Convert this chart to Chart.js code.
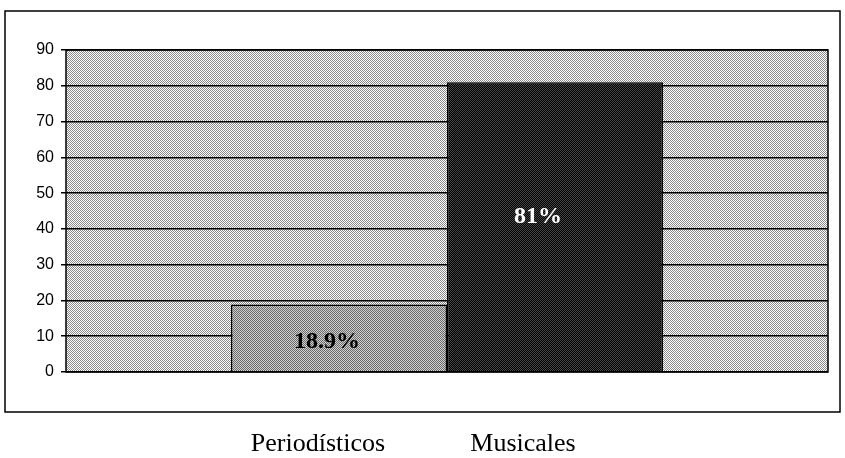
<!DOCTYPE html>
<html>
<head>
<meta charset="utf-8">
<script src="https://cdn.jsdelivr.net/npm/chart.js@4/dist/chart.umd.min.js"></script>
<style>
  html, body { margin: 0; padding: 0; background: #fff; }
  #wrap { width: 845px; height: 458px; position: relative; }
</style>
</head>
<body>
<div id="wrap"><canvas id="chart"></canvas></div>
<script>
// Data
const categories = [''];
const seriesNames = ['Periodísticos', 'Musicales'];
const seriesValues = [18.9, 81];
const valueLabels = ['18.9%', '81%'];
const yTicks = [0, 10, 20, 30, 40, 50, 60, 70, 80, 90];

// small checker pattern to fake the halftone look
function checker(a, b) {
    const c = document.createElement('canvas');
    c.width = 2; c.height = 2;
    const g = c.getContext('2d');
    g.fillStyle = a; g.fillRect(0, 0, 2, 2);
    g.fillStyle = b; g.fillRect(0, 0, 1, 1); g.fillRect(1, 1, 1, 1);
    return g.createPattern(c, 'repeat');
}

const ctx = document.getElementById('chart').getContext('2d');
const plotFill = checker('#ffffff', '#8a8a8a');
const barFills = [checker('#d0d0d0', '#6a6a6a'), checker('#000000', '#444444')];

const framePlugin = {
    id: 'frame',
    beforeDraw(chart) {
        const c = chart.ctx, a = chart.chartArea;
        c.save();
        c.fillStyle = plotFill;
        c.fillRect(a.left, a.top, a.right - a.left, a.bottom - a.top);
        // outer frame
        c.strokeStyle = '#000';
        c.lineWidth = 1.5;
        c.strokeRect(5, 11, 835, 401);
        c.restore();
    },
    afterDraw(chart) {
        const c = chart.ctx, a = chart.chartArea;
        c.save();
        c.strokeStyle = '#000';
        c.lineWidth = 1.5;
        c.strokeRect(a.left, a.top, a.right - a.left, a.bottom - a.top);
        // value labels in the bars
        c.font = 'bold 24px "Liberation Serif", "Times New Roman", serif';
        c.textAlign = 'center';
        c.textBaseline = 'middle';
        chart.data.datasets.forEach((ds, i) => {
            const bar = chart.getDatasetMeta(i).data[0];
            c.fillStyle = i === 0 ? '#000' : '#fff';
            const y = i === 0 ? chart.scales.y.getPixelForValue(8.5) : chart.scales.y.getPixelForValue(43.3);
            c.fillText(valueLabels[i], bar.x - (i === 0 ? 12 : 17), y);
        });
        // series names below the frame
        c.font = '26px "Liberation Serif", "Times New Roman", serif';
        c.textBaseline = 'alphabetic';
        c.fillStyle = '#000';
        c.fillText(seriesNames[0], 318, 451);
        c.fillText(seriesNames[1], 523, 451);
        c.restore();
    }
};

new Chart(ctx, {
    type: 'bar',
    data: {
        labels: categories,
        datasets: seriesNames.map((name, i) => ({
            label: name,
            data: [seriesValues[i]],
            backgroundColor: barFills[i],
            borderColor: '#000',
            borderWidth: 1.5,
            categoryPercentage: 0.567,
            barPercentage: 1
        }))
    },
    options: {
        responsive: true,
        maintainAspectRatio: false,
        animation: false,
        layout: { padding: { left: 6, right: 17, top: 50, bottom: 86 } },
        plugins: {
            legend: { display: false },
            tooltip: { enabled: false }
        },
        scales: {
            x: {
                display: false,
                grid: { display: false }
            },
            y: {
                min: 0,
                max: 90,
                afterBuildTicks: axis => { axis.ticks = yTicks.map(v => ({ value: v })); },
                border: { display: false },
                grid: {
                    color: '#000',
                    lineWidth: 1.5,
                    drawTicks: true,
                    tickLength: 5
                },
                ticks: {
                    color: '#000',
                    padding: 7,
                    font: { family: 'Liberation Sans, Arial, sans-serif', size: 16 }
                },
                afterFit: axis => { axis.width = 60; }
            }
        }
    },
    plugins: [framePlugin]
});
</script>
</body>
</html>
